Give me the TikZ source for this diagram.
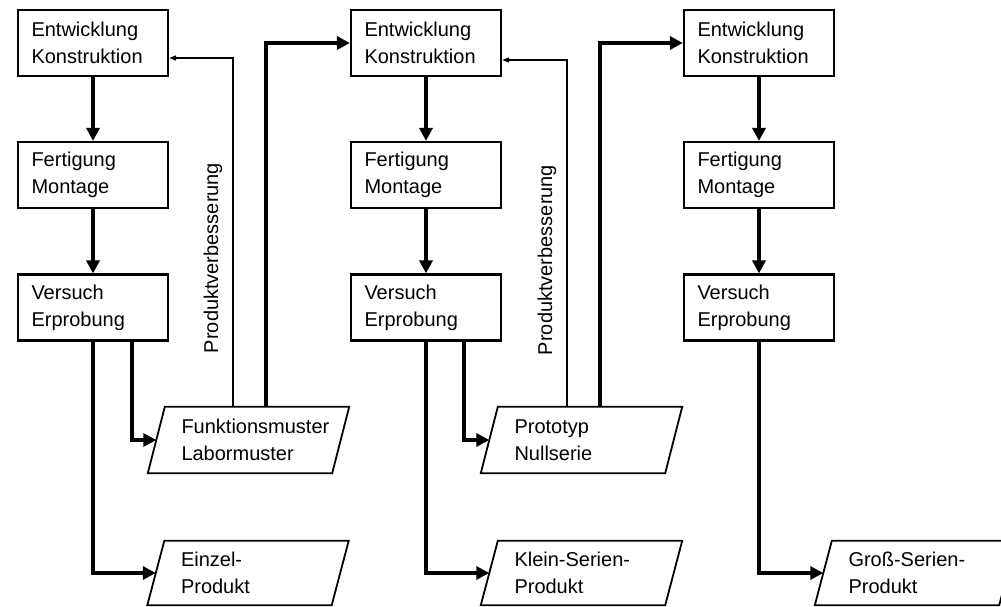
\documentclass[tikz,border=0pt]{standalone}
\usepackage{fontspec}
\setmainfont{Liberation Sans}
\usetikzlibrary{arrows.meta}

% outline of a slanted (parallelogram) box around a rectangular node
\newcommand\slantframe[1]{%
  \draw[paraedge] ([xshift=8.5pt]#1.north west) -- ([xshift=8.5pt]#1.north east)
    -- ([xshift=-8.5pt]#1.south east) -- ([xshift=-8.5pt]#1.south west) -- cycle;}

\begin{document}
\begin{tikzpicture}[x=1pt, y=-1pt,
  every node/.style={font=\fontsize{20}{27}\selectfont},
  stepbox/.style={draw, line width=2.2pt, minimum width=150pt, minimum height=66pt,
    text width=123pt, inner xsep=13.5pt, inner ysep=0pt, align=left},
  parabody/.style={minimum width=184pt, inner sep=0pt},
  paraedge/.style={line width=1.8pt, line join=miter},
  paratext/.style={anchor=west, align=left, inner sep=0pt},
  flow/.style={line width=3.2pt, -{Triangle[length=13pt, width=13pt]}},
  back/.style={line width=1.3pt, -{Triangle[length=7pt, width=5pt]}},
  vlabel/.style={rotate=90, inner sep=0pt}]
\useasboundingbox (0,0) rectangle (1001,607);
\clip (0,0) rectangle (1001,607);

% three development stages
\foreach \c/\x in {1/93, 2/426, 3/759} {
  \node[stepbox] (e\c) at (\x,43)    {Entwicklung\\Konstruktion};
  \node[stepbox] (f\c) at (\x,175)   {Fertigung\\Montage};
  \node[stepbox] (v\c) at (\x,307.5) {Versuch\\Erprobung};
  \draw[flow] (e\c) -- (f\c);
  \draw[flow] (f\c) -- (v\c);
}

% intermediate results
\node[parabody, minimum height=66pt] (fm) at (248.5,440) {};
\slantframe{fm}
\node[paratext] (fmt) at ([xshift=25pt]fm.west) {Funktionsmuster\\Labormuster};

\node[parabody, minimum height=66pt] (pt) at (581.5,440) {};
\slantframe{pt}
\node[paratext] (ptt) at ([xshift=25pt]pt.west) {Prototyp\\Nullserie};

% final products
\node[parabody, minimum height=64pt] (ez) at (248,573) {};
\slantframe{ez}
\node[paratext] (ezt) at ([xshift=25pt]ez.west) {Einzel-\\Produkt};

\node[parabody, minimum height=64pt] (ks) at (581.5,573) {};
\slantframe{ks}
\node[paratext] (kst) at ([xshift=25pt]ks.west) {Klein-Serien-\\Produkt};

\node[parabody, minimum height=64pt] (gs) at (915.5,573) {};
\slantframe{gs}
\node[paratext] (gst) at ([xshift=25pt]gs.west) {Groß-Serien-\\Produkt};

% testing leads to samples / products
\draw[flow] ([xshift=39pt]v1.south) |- (fm.west);
\draw[flow] (v1.south) |- (ez.west);
\draw[flow] ([xshift=38pt]v2.south) |- (pt.west);
\draw[flow] (v2.south) |- (ks.west);
\draw[flow] (v3.south) |- (gs.west);

% product improvement feedback
\coordinate (fb1) at (233,58);
\coordinate (fb2) at (567,60);
\draw[back] (fm.north -| fb1) -- (fb1) -- (e1.east |- fb1);
\draw[back] (pt.north -| fb2) -- (fb2) -- (e2.east |- fb2);
\node[vlabel] (lab1) at (213,258) {Produktverbesserung};
\node[vlabel] (lab2) at (547,260) {Produktverbesserung};

% transition to the next stage
\coordinate (up1) at (266,0);
\coordinate (up2) at (600,0);
\draw[flow] (fm.north -| up1) |- (e2.west);
\draw[flow] (pt.north -| up2) |- (e3.west);
\end{tikzpicture}
\end{document}
